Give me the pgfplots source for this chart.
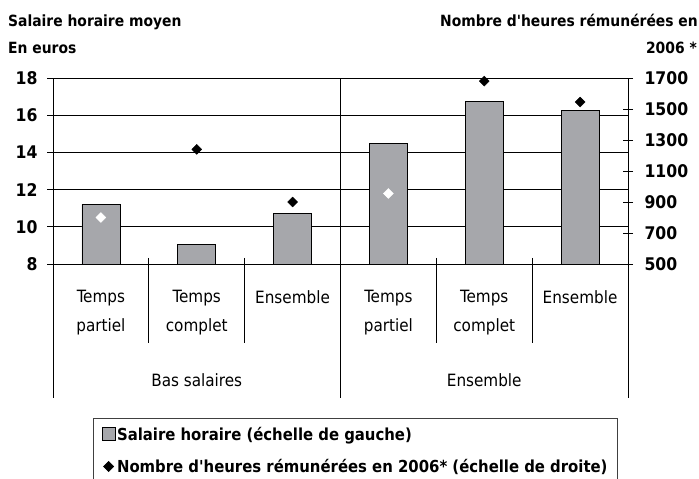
\documentclass[border=0pt]{standalone}
\usepackage{fontspec}
\setmainfont{DejaVu Sans Condensed}[BoldFont={DejaVu Sans Condensed Bold}, Ligatures=TeXOff]
\usepackage{pgfplots}
\pgfplotsset{compat=1.18}
\definecolor{barcol}{RGB}{166,167,171}
\newcommand{\titlefont}{\bfseries\fontsize{15.5}{18}\selectfont}
\newcommand{\legfont}{\bfseries\fontsize{16.6}{18}\selectfont}
\newcommand{\tickfont}{\bfseries\fontsize{17.5}{19}\selectfont}
\newcommand{\catfont}{\fontsize{17}{28.5}\selectfont}
\begin{document}
\begin{tikzpicture}
\useasboundingbox (0bp,0bp) rectangle (699bp,-479bp);
\clip (0bp,0bp) rectangle (699bp,-479bp);
\node[anchor=base west, font=\titlefont, inner sep=0pt] at (8bp,-26.5bp) {Salaire horaire moyen};
\node[anchor=base west, font=\titlefont, inner sep=0pt] at (8bp,-53bp) {En euros};
\node[anchor=base east, font=\titlefont, inner sep=0pt] at (698bp,-26.5bp) {Nombre d'heures rémunérées en};
\node[anchor=base east, font=\titlefont, inner sep=0pt] at (697bp,-53bp) {2006 *};

\begin{axis}[
  at={(53bp,-264bp)}, anchor=south west, scale only axis,
  width=575bp, height=186bp,
  xmin=-0.5, xmax=5.5, ymin=8, ymax=18,
  ytick={8,10,...,18}, ymajorgrids, ytick pos=left,
  tick align=outside, major tick length=6bp,
  xtick={0,...,5},
  xticklabels={{Temps\\partiel},{Temps\\complet},{Ensemble},{Temps\\partiel},{Temps\\complet},{Ensemble}},
  major x tick style={draw=none},
  xticklabel style={align=center, font=\catfont, yshift=-17bp},
  yticklabel style={font=\tickfont, xshift=-6bp},
  /pgf/number format/assume math mode=true,
  axis line style={black, line width=0.8bp},
  grid style={black, line width=0.8bp},
  tick style={black, line width=0.8bp},
  legend style={at={(0.0696,-0.828)}, anchor=north west, draw=black!75, line width=0.8bp,
    minimum width=524bp, inner sep=7bp, row sep=14.5bp,
    nodes={inner sep=1.5bp, minimum width=0pt, font=\legfont}},
  legend cell align=left,
]
\addplot[ybar, bar width=38bp, fill=barcol, draw=black, line width=0.8bp,
  legend image code/.code={\draw[fill=barcol,draw=black,line width=0.8bp] (0bp,-6.5bp) rectangle (13bp,6.5bp);}]
  coordinates {(0,11.2) (1,9.05) (2,10.7) (3,14.48) (4,16.72) (5,16.25)};
\addlegendentry{Salaire horaire (échelle de gauche)}
\addlegendimage{legend image code/.code={\path[draw=black,fill=black] plot[only marks, mark=square*, mark size=3.5bp, mark options={rotate=45}] coordinates {(6.5bp,0bp)};}}
\addlegendentry{Nombre d'heures rémunérées en 2006* (échelle de droite)}
\end{axis}

\begin{axis}[
  at={(53bp,-264bp)}, anchor=south west, scale only axis,
  width=575bp, height=186bp,
  xmin=-0.5, xmax=5.5, ymin=500, ymax=1700,
  ytick={500,700,...,1700},
  axis y line*=right, axis x line=none,
  tick align=center, major tick length=10bp,
  yticklabel style={font=\tickfont, xshift=8bp},
  /pgf/number format/assume math mode=true,
  /pgf/number format/1000 sep={},
  scaled y ticks=false,
  axis line style={black, line width=0.8bp},
  tick style={black, line width=0.8bp},
  clip=false,
]
\addplot[only marks, mark=square*, mark size=3.5bp, mark options={rotate=45, fill=black, draw=black}]
  coordinates {(1,1240) (2,900) (4,1680) (5,1545)};
\addplot[only marks, mark=square*, mark size=3.5bp, mark options={rotate=45, fill=white, draw=white}]
  coordinates {(0,800) (3,955)};
\draw[black, line width=0.8bp] (rel axis cs:0,0) -- (rel axis cs:0,-0.7204);
\draw[black, line width=0.8bp] (rel axis cs:1,0) -- (rel axis cs:1,-0.7204);
\draw[black, line width=0.8bp] (rel axis cs:0.5,1) -- (rel axis cs:0.5,-0.7204);
\draw[black, line width=0.8bp] (rel axis cs:0.16667,0.0323) -- (rel axis cs:0.16667,-0.4247);
\draw[black, line width=0.8bp] (rel axis cs:0.33333,0.0323) -- (rel axis cs:0.33333,-0.4247);
\draw[black, line width=0.8bp] (rel axis cs:0.66667,0.0323) -- (rel axis cs:0.66667,-0.4247);
\draw[black, line width=0.8bp] (rel axis cs:0.83333,0.0323) -- (rel axis cs:0.83333,-0.4247);
\node[anchor=base, font=\catfont, inner sep=0pt] at (rel axis cs:0.25,-0.6597) {Bas salaires};
\node[anchor=base, font=\catfont, inner sep=0pt] at (rel axis cs:0.75,-0.6597) {Ensemble};
\end{axis}
\end{tikzpicture}
\end{document}
